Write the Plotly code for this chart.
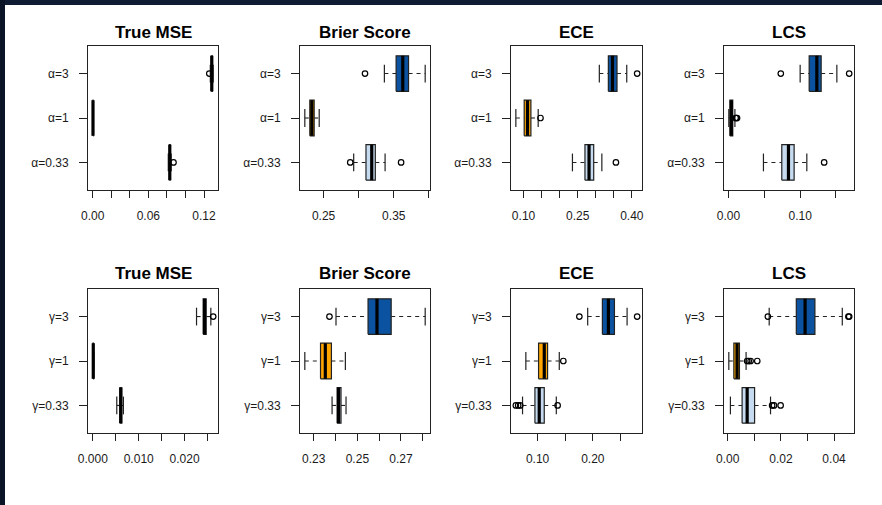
import plotly.graph_objects as go

# ---------------- data ----------------
alpha_labels = ["α=0.33", "α=1", "α=3"]
gamma_labels = ["γ=0.33", "γ=1", "γ=3"]
metric_titles = ["True MSE", "Brier Score", "ECE", "LCS"]
group_colors = ["#C6DBEF", "#FFA500", "#0B53A0"]

# five-number summaries [lower whisker, Q1, median, Q3, upper whisker]; groups: 0.33, 1, 3
alpha_mse_stats = [[0.0815, 0.0827, 0.0831, 0.0836, 0.0846],
                   [0.0001, 0.0002, 0.0003, 0.0004, 0.0005],
                   [0.1268, 0.1279, 0.1284, 0.1290, 0.1299]]
alpha_mse_out = [[0.0871], [], [0.1257]]

alpha_brier_stats = [[0.2929, 0.3104, 0.3186, 0.3237, 0.3376],
                     [0.2233, 0.2304, 0.2333, 0.2366, 0.2438],
                     [0.3366, 0.3533, 0.3628, 0.3710, 0.3947]]
alpha_brier_out = [[0.2880, 0.3604], [], [0.3090]]

alpha_ece_stats = [[0.2355, 0.2702, 0.2815, 0.2944, 0.3170],
                   [0.0787, 0.1018, 0.1110, 0.1204, 0.1406],
                   [0.3100, 0.3350, 0.3465, 0.3590, 0.3860]]
alpha_ece_out = [[0.3560], [0.1470], [0.4148]]

alpha_lcs_stats = [[0.0488, 0.0744, 0.0837, 0.0916, 0.1093],
                   [0.0005, 0.0020, 0.0040, 0.0060, 0.0090],
                   [0.1000, 0.1126, 0.1233, 0.1293, 0.1512]]
alpha_lcs_out = [[0.1335], [0.0100, 0.0110, 0.0120], [0.0730, 0.1684]]

gamma_mse_stats = [[0.00522, 0.00590, 0.00609, 0.00630, 0.00667],
                   [0.00000, 0.00005, 0.00010, 0.00015, 0.00020],
                   [0.02260, 0.02405, 0.02435, 0.02470, 0.02572]]
gamma_mse_out = [[], [], [0.02623]]

gamma_brier_stats = [[0.2384, 0.2407, 0.2414, 0.2425, 0.2448],
                     [0.2259, 0.2331, 0.2353, 0.2381, 0.2445],
                     [0.2402, 0.2549, 0.2590, 0.2655, 0.2811]]
gamma_brier_out = [[], [], [0.2372]]

gamma_ece_stats = [[0.0728, 0.0952, 0.1030, 0.1121, 0.1339],
                   [0.0788, 0.1018, 0.1121, 0.1181, 0.1393],
                   [0.1907, 0.2173, 0.2282, 0.2391, 0.2620]]
gamma_ece_out = [[0.0607, 0.0649, 0.0686, 0.1363], [0.1466], [0.1756, 0.2802]]

gamma_lcs_stats = [[0.0010, 0.0054, 0.0073, 0.0101, 0.0161],
                   [0.0004, 0.0023, 0.0035, 0.0044, 0.0069],
                   [0.0156, 0.0258, 0.0291, 0.0328, 0.0431]]
gamma_lcs_out = [[0.0167, 0.0174, 0.0199], [0.0073, 0.0079, 0.0086, 0.0111],
                 [0.0151, 0.0454, 0.0457]]

# x-axis ticks (R draws every tick, labels only where they fit)
alpha_mse_ticks = [0.00, 0.02, 0.04, 0.06, 0.08, 0.10, 0.12]
alpha_mse_ticktext = ["0.00", "", "", "0.06", "", "", "0.12"]
alpha_brier_ticks = [0.25, 0.30, 0.35, 0.40]
alpha_brier_ticktext = ["0.25", "", "0.35", ""]
alpha_ece_ticks = [0.10, 0.15, 0.20, 0.25, 0.30, 0.35, 0.40]
alpha_ece_ticktext = ["0.10", "", "", "0.25", "", "", "0.40"]
alpha_lcs_ticks = [0.00, 0.05, 0.10, 0.15]
alpha_lcs_ticktext = ["0.00", "", "0.10", ""]
gamma_mse_ticks = [0.000, 0.005, 0.010, 0.015, 0.020, 0.025]
gamma_mse_ticktext = ["0.000", "", "0.010", "", "0.020", ""]
gamma_brier_ticks = [0.23, 0.24, 0.25, 0.26, 0.27, 0.28]
gamma_brier_ticktext = ["0.23", "", "0.25", "", "0.27", ""]
gamma_ece_ticks = [0.10, 0.15, 0.20, 0.25]
gamma_ece_ticktext = ["0.10", "", "0.20", ""]
gamma_lcs_ticks = [0.00, 0.01, 0.02, 0.03, 0.04]
gamma_lcs_ticktext = ["0.00", "", "0.02", "", "0.04"]

# ---------------- layout / style ----------------
W, H = 882, 505
col_px = [(88, 218), (300, 430), (511, 642), (724, 854)]
row_px = [(46, 190), (289, 433)]
title_px = [32, 273]
positions = [1, 2, 3]
box_half = 0.4
cap_half = 0.2
edge = "#222222"
txt = "#1a1a1a"
FONT = "Liberation Sans, Arial, Helvetica, sans-serif"

panels = [
    (alpha_mse_stats, alpha_mse_out, alpha_mse_ticks, alpha_mse_ticktext, alpha_labels),
    (alpha_brier_stats, alpha_brier_out, alpha_brier_ticks, alpha_brier_ticktext, alpha_labels),
    (alpha_ece_stats, alpha_ece_out, alpha_ece_ticks, alpha_ece_ticktext, alpha_labels),
    (alpha_lcs_stats, alpha_lcs_out, alpha_lcs_ticks, alpha_lcs_ticktext, alpha_labels),
    (gamma_mse_stats, gamma_mse_out, gamma_mse_ticks, gamma_mse_ticktext, gamma_labels),
    (gamma_brier_stats, gamma_brier_out, gamma_brier_ticks, gamma_brier_ticktext, gamma_labels),
    (gamma_ece_stats, gamma_ece_out, gamma_ece_ticks, gamma_ece_ticktext, gamma_labels),
    (gamma_lcs_stats, gamma_lcs_out, gamma_lcs_ticks, gamma_lcs_ticktext, gamma_labels),
]

fig = go.Figure()
layout = {}
annotations = []

for i, (stats, outs, tv, tt, ylabels) in enumerate(panels):
    r, c = divmod(i, 4)
    n = i + 1
    sfx = "" if n == 1 else str(n)
    xa, ya = "x" + sfx, "y" + sfx
    common = dict(xaxis=xa, yaxis=ya, showlegend=False, hoverinfo="skip")

    wx, wy, cx, cy, mx_, my_, ox, oy = [], [], [], [], [], [], [], []
    for g, st in enumerate(stats):
        p = positions[g]
        lo, q1, md, q3, hi = st
        wx += [lo, q1, None, q3, hi, None]
        wy += [p, p, None, p, p, None]
        cx += [lo, lo, None, hi, hi, None]
        cy += [p - cap_half, p + cap_half, None, p - cap_half, p + cap_half, None]
        mx_ += [md, md, None]
        my_ += [p - box_half, p + box_half, None]
        for v in outs[g]:
            ox.append(v)
            oy.append(p)

    # whiskers (dashed) and staples
    fig.add_trace(go.Scatter(x=wx, y=wy, mode="lines",
                             line=dict(color=edge, width=1.1, dash="4px,4px"), **common))
    fig.add_trace(go.Scatter(x=cx, y=cy, mode="lines",
                             line=dict(color=edge, width=1.2), **common))
    # boxes
    for g, st in enumerate(stats):
        p = positions[g]
        lo, q1, md, q3, hi = st
        fig.add_trace(go.Scatter(
            x=[q1, q3, q3, q1, q1],
            y=[p - box_half, p - box_half, p + box_half, p + box_half, p - box_half],
            mode="lines", fill="toself", fillcolor=group_colors[g],
            line=dict(color=edge, width=1.2), **common))
    # medians
    fig.add_trace(go.Scatter(x=mx_, y=my_, mode="lines",
                             line=dict(color="#000000", width=3.2), **common))
    # outliers
    if ox:
        fig.add_trace(go.Scatter(x=ox, y=oy, mode="markers",
                                 marker=dict(symbol="circle-open", size=5.5, color="#000000",
                                             line=dict(width=1.2)), **common))

    allv = [s[0] for s in stats] + [s[4] for s in stats] + [v for o in outs for v in o]
    lo_all, hi_all = min(allv), max(allv)
    pad = 0.04 * (hi_all - lo_all)

    x0, x1 = col_px[c]
    y0, y1 = row_px[r]
    layout["xaxis" + sfx] = dict(
        domain=[x0 / W, x1 / W], range=[lo_all - pad, hi_all + pad], anchor=ya,
        tickmode="array", tickvals=tv, ticktext=tt,
        ticks="outside", ticklen=7, tickwidth=1, tickcolor=edge,
        showline=True, linecolor=edge, linewidth=1, mirror=True,
        showgrid=False, zeroline=False, fixedrange=True, automargin=False,
        tickfont=dict(size=12, color=txt, family=FONT), ticklabelstandoff=8)
    layout["yaxis" + sfx] = dict(
        domain=[1 - y1 / H, 1 - y0 / H], range=[0.38, 3.62], anchor=xa,
        tickmode="array", tickvals=positions, ticktext=ylabels,
        ticks="outside", ticklen=8, tickwidth=1, tickcolor=edge,
        showline=True, linecolor=edge, linewidth=1, mirror=True,
        showgrid=False, zeroline=False, fixedrange=True, automargin=False,
        tickfont=dict(size=12, color=txt, family=FONT), ticklabelstandoff=8)
    annotations.append(dict(
        text="<b>" + metric_titles[c] + "</b>", xref="paper", yref="paper",
        x=(x0 + x1) / 2 / W, y=1 - title_px[r] / H, xanchor="center", yanchor="middle",
        showarrow=False, font=dict(size=17, color="#000000", family=FONT)))

shapes = [
    dict(type="rect", xref="paper", yref="paper", x0=0, x1=1, y0=1 - 5 / H, y1=1,
         fillcolor="#0f1b33", line=dict(width=0), layer="above"),
    dict(type="rect", xref="paper", yref="paper", x0=0, x1=5 / W, y0=0, y1=1,
         fillcolor="#0b1326", line=dict(width=0), layer="above"),
]

fig.update_layout(
    width=W, height=H, autosize=False,
    margin=dict(l=0, r=0, t=0, b=0, pad=0, autoexpand=False),
    paper_bgcolor="#ffffff", plot_bgcolor="#ffffff",
    font=dict(family=FONT, color=txt),
    annotations=annotations, shapes=shapes,
    **layout)

fig.write_html("out.html", post_script="document.body.style.margin='0';",
               config={"displayModeBar": False})
